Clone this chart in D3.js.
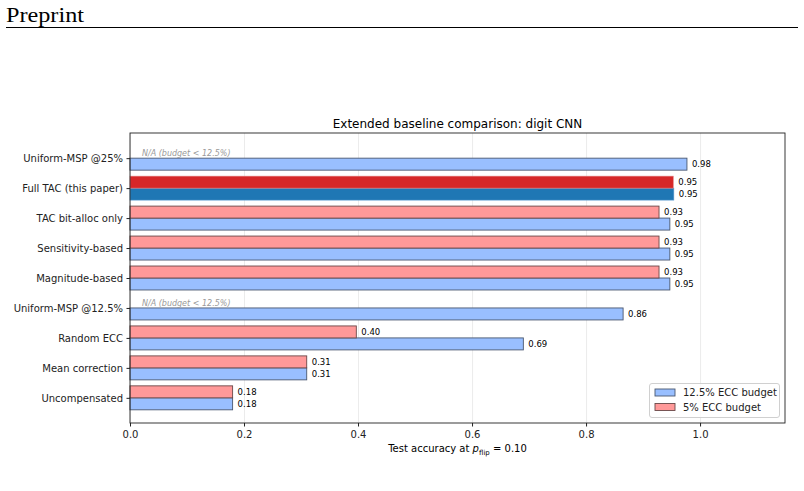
<!DOCTYPE html>
<html><head><meta charset="utf-8">
<script src="https://cdn.jsdelivr.net/npm/d3@7"></script>
<style>body{margin:0;background:#fff;}svg{display:block;}</style>
</head><body>
<script>
const categories = ["Uncompensated","Mean correction","Random ECC","Uniform-MSP @12.5%","Magnitude-based","Sensitivity-based","TAC bit-alloc only","Full TAC (this paper)","Uniform-MSP @25%"];
const budget125 = [0.18,0.31,0.69,0.865,0.947,0.947,0.947,0.954,0.977];
const budget5 = [0.18,0.31,0.397,null,0.928,0.928,0.928,0.953,null];
const highlight = "Full TAC (this paper)";
const xTicks = [0,0.2,0.4,0.6,0.8,1.0];
const seriesNames = ["12.5% ECC budget","5% ECC budget"];

const W=804,H=491;
const svg=d3.select("body").append("svg").attr("width",W).attr("height",H);
const font="DejaVu Sans, sans-serif";

// page header
svg.append("text").attr("x",6).attr("y",22).attr("font-family","Liberation Serif, Times New Roman, serif").attr("font-size",22).attr("fill","#000").attr("textLength",78).attr("lengthAdjust","spacingAndGlyphs").text("Preprint");
svg.append("line").attr("x1",6).attr("x2",798).attr("y1",27.5).attr("y2",27.5).attr("stroke","#000").attr("stroke-width",1.2);

const L=130,R=785,T=133,B=423;
const x=d3.scaleLinear().domain([0,1.149]).range([L,R]);
const y=d3.scaleLinear().domain([-0.84,categories.length-1+0.84]).range([B,T]);
const bh=y(0)-y(0.4);

// grid
svg.append("g").selectAll("line").data(xTicks).join("line")
 .attr("x1",d=>x(d)+0.5).attr("x2",d=>x(d)+0.5).attr("y1",T).attr("y2",B)
 .attr("stroke","#e6e6e6").attr("stroke-width",0.8);

const blueFill="#99bfff", redFill="#ff9999";
const g=svg.append("g");
categories.forEach((c,i)=>{
  const hi=c===highlight;
  const vb=budget125[i];
  g.append("rect").attr("x",x(0)).attr("y",y(i)).attr("width",x(vb)-x(0)).attr("height",bh)
   .attr("fill",hi?"#1f77b4":blueFill).attr("stroke",hi?"#5b9ad0":"#4a5870").attr("stroke-width",hi?0.6:0.9);
  g.append("text").attr("x",x(vb)+5).attr("y",y(i)+bh/2).attr("dy","0.35em").attr("font-family",font).attr("font-size",8.5).attr("fill","#000").text(vb.toFixed(2));
  const vr=budget5[i];
  if(vr==null){
    g.append("text").attr("x",x(0)+12).attr("y",y(i)+bh/2-bh+1).attr("dy","0.35em").attr("font-family",font).attr("font-size",8).attr("font-style","italic").attr("fill","#999").text("N/A (budget < 12.5%)");
  } else {
    g.append("rect").attr("x",x(0)).attr("y",y(i+0.4)).attr("width",x(vr)-x(0)).attr("height",bh)
     .attr("fill",hi?"#d62728":redFill).attr("stroke",hi?"#e58080":"#6b4848").attr("stroke-width",hi?0.6:0.9);
    g.append("text").attr("x",x(vr)+5).attr("y",y(i+0.4)+bh/2).attr("dy","0.35em").attr("font-family",font).attr("font-size",8.5).attr("fill","#000").text(vr.toFixed(2));
  }
});

// frame
svg.append("rect").attr("x",L).attr("y",T).attr("width",R-L).attr("height",B-T).attr("fill","none").attr("stroke","#222").attr("stroke-width",0.9);

// x axis
const xa=svg.append("g").attr("transform",`translate(0,${B})`).call(d3.axisBottom(x).tickValues(xTicks).tickFormat(d3.format(".1f")).tickSize(3.5).tickPadding(4));
xa.select(".domain").remove();
xa.selectAll("text").attr("font-family",font).attr("font-size",10).attr("fill","#222");
xa.selectAll("line").attr("stroke","#222");

// y axis
const ya=svg.append("g").attr("transform",`translate(${L},0)`).call(d3.axisLeft(y).tickValues(d3.range(categories.length)).tickFormat(i=>categories[i]).tickSize(3.5).tickPadding(3.5));
ya.select(".domain").remove();
ya.selectAll("text").attr("font-family",font).attr("font-size",10).attr("fill","#222");
ya.selectAll("line").attr("stroke","#222");

// title
svg.append("text").attr("x",(L+R)/2).attr("y",128).attr("text-anchor","middle").attr("font-family",font).attr("font-size",12).attr("fill","#000").text("Extended baseline comparison: digit CNN");

// x label
const xl=svg.append("text").attr("x",(L+R)/2).attr("y",452).attr("text-anchor","middle").attr("font-family",font).attr("font-size",10).attr("fill","#000");
xl.append("tspan").text("Test accuracy at ");
xl.append("tspan").attr("font-style","italic").text("p");
xl.append("tspan").attr("font-size",7).attr("dy",2.5).text("flip");
xl.append("tspan").attr("dy",-2.5).text(" = 0.10");

// legend
const lg=svg.append("g");
lg.append("rect").attr("x",649.5).attr("y",383.5).attr("width",130).attr("height",34).attr("rx",2.5).attr("fill","#fff").attr("fill-opacity",0.8).attr("stroke","#d0d0d0");
[[blueFill,"#4a5870"],[redFill,"#6b4848"]].forEach((cc,k)=>{
  const yy=389+k*14.5;
  lg.append("rect").attr("x",655).attr("y",yy).attr("width",20).attr("height",7).attr("fill",cc[0]).attr("stroke",cc[1]).attr("stroke-width",0.9);
  lg.append("text").attr("x",683).attr("y",yy+3.5).attr("dy","0.35em").attr("font-family",font).attr("font-size",10).attr("fill","#222").text(seriesNames[k]);
});
</script>
</body></html>
